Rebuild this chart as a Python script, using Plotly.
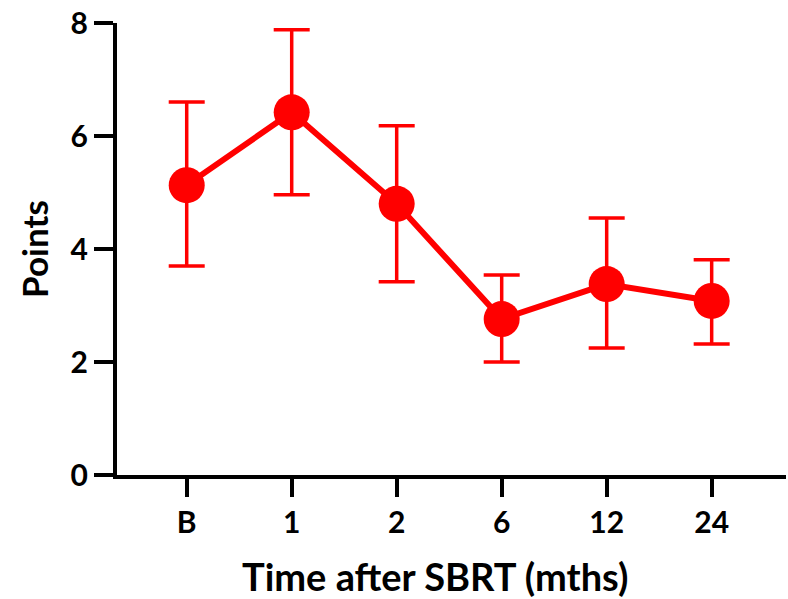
import plotly.graph_objects as go

categories = ["B", "1", "2", "6", "12", "24"]
means = [5.13, 6.42, 4.80, 2.76, 3.38, 3.08]
err_upper = [6.60, 7.88, 6.18, 3.54, 4.55, 3.81]
err_lower = [3.70, 4.96, 3.42, 2.00, 2.25, 2.32]

x_title = "Time after SBRT (mths)"
y_title = "Points"

plus = [u - m for u, m in zip(err_upper, means)]
minus = [m - l for m, l in zip(means, err_lower)]

RED = "#ff0000"
FONT = "Lato"

fig = go.Figure()
fig.add_trace(go.Scatter(
    x=list(range(len(categories))),
    y=means,
    mode="lines+markers",
    line=dict(color=RED, width=6),
    marker=dict(color=RED, size=36),
    error_y=dict(type="data", symmetric=False, array=plus, arrayminus=minus,
                 color=RED, thickness=3.5, width=18),
    showlegend=False,
    cliponaxis=False,
))

fig.add_annotation(
    text=x_title, xref="paper", yref="paper", x=0.4753, y=-0.2235,
    xanchor="center", yanchor="middle", showarrow=False,
    font=dict(size=38, family=FONT, weight="bold", color="black"),
)

fig.update_layout(
    width=788, height=599,
    margin=dict(l=117, r=2, t=23, b=124),
    paper_bgcolor="white",
    plot_bgcolor="white",
    font=dict(family=FONT, color="black"),
    xaxis=dict(
        tickmode="array",
        tickvals=list(range(len(categories))),
        ticktext=categories,
        range=[-0.664, 5.708],
        showgrid=False, zeroline=False,
        showline=True, linecolor="black", linewidth=4,
        ticks="outside", ticklen=18, tickwidth=4, tickcolor="black",
        tickfont=dict(size=30, family=FONT, weight="bold"),
    ),
    yaxis=dict(
        range=[0, 8],
        tickvals=[0, 2, 4, 6, 8],
        showgrid=False, zeroline=False,
        showline=True, linecolor="black", linewidth=4,
        ticks="outside", ticklen=19, tickwidth=4, tickcolor="black",
        tickfont=dict(size=30, family=FONT, weight="bold"),
        title=dict(text=y_title, font=dict(size=35, family=FONT, weight="bold"), standoff=12),
    ),
)

fig.write_html("out.html")
